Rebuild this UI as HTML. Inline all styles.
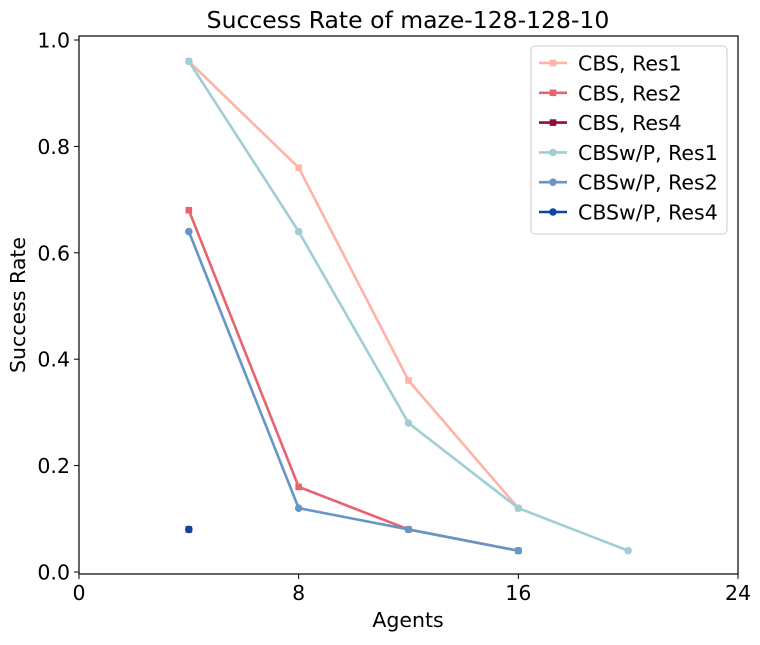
<!DOCTYPE html>
<html><head><meta charset="utf-8"><style>
body{margin:0;background:#fff}
svg{font-family:"DejaVu Sans","Liberation Sans",sans-serif}
</style></head><body>
<svg id="chart" width="760" height="640" xmlns="http://www.w3.org/2000/svg">
<rect width="760" height="640" fill="#fff"/>
<text x="408" y="28" font-size="23.5" text-anchor="middle">Success Rate of maze-128-128-10</text>
<text x="408" y="627" font-size="20.5" text-anchor="middle">Agents</text>
<text x="25" y="305" font-size="20.5" text-anchor="middle" transform="rotate(-90 25 305)">Success Rate</text>
<g id="ticks"></g>
<g id="series"></g>
<rect x="79" y="36" width="659" height="538" fill="none" stroke="#000" stroke-width="1.2"/>
<g id="legend"></g>
</svg>
<script>
const xTicks=[0,8,16,24];
const yTicks=[0.0,0.2,0.4,0.6,0.8,1.0];
const names=["CBS, Res1","CBS, Res2","CBS, Res4","CBSw/P, Res1","CBSw/P, Res2","CBSw/P, Res4"];
const colors=["#ffb3a7","#e8636f","#900c3f","#a0ced5","#6696c6","#0a47a0"];
const markers=["s","s","s","o","o","o"];
const xs1=[4,8,12,16];
const cbsRes1=[0.96,0.76,0.36,0.12];
const cbsRes2=[0.68,0.16,0.08,0.04];
const xsRes4=[4];
const cbsRes4=[0.08];
const xsP1=[4,8,12,16,20];
const pRes1=[0.96,0.64,0.28,0.12,0.04];
const pRes2=[0.64,0.12,0.08,0.04];
const pRes4=[0.08];
const NS="http://www.w3.org/2000/svg";
const X=v=>79+v*(659/24), Y=v=>572-v*532;
function mk(t,a,p){const e=document.createElementNS(NS,t);for(const k in a)e.setAttribute(k,a[k]);(p||document.getElementById('series')).appendChild(e);return e;}
const tg=document.getElementById('ticks');
xTicks.forEach(t=>{
 const l=mk('line',{x1:X(t),x2:X(t),y1:574,y2:579,stroke:'#000'},tg);
 
 
 const tx=mk('text',{x:X(t),y:600,'font-size':20.5,'text-anchor':'middle'},tg);tx.textContent=t;
 
 
});
yTicks.forEach(t=>{
 const l=mk('line',{x1:74,x2:79,y1:Y(t),y2:Y(t),stroke:'#000'},tg);
 
 
 const tx=mk('text',{x:70,y:Y(t)+7.5,'font-size':20.5,'text-anchor':'end'},tg);tx.textContent=t.toFixed(1);
 
 
});
function marker(m,x,y,c,p){
 let e;
 if(m==='s') e=mk('rect',{x:x-3.3,y:y-3.3,width:6.6,height:6.6,fill:c},p);
 else e=mk('circle',{cx:x,cy:y,r:3.8,fill:c},p);
 
 
}
const series=[[xs1,cbsRes1],[xs1,cbsRes2],[xsRes4,cbsRes4],[xsP1,pRes1],[xs1,pRes2],[xsRes4,pRes4]];
series.forEach((s,i)=>{
 const pts=s[0].map((x,j)=>X(x)+','+Y(s[1][j])).join(' ');
 const g=mk('g',{});
 
 
 const pl=mk('polyline',{points:pts,fill:'none',stroke:colors[i],'stroke-width':2.6},g);
 
 
 s[0].forEach((x,j)=>marker(markers[i],X(x),Y(s[1][j]),colors[i],g));
});
const lg=document.getElementById('legend');
const box=mk('rect',{x:531,y:46,width:196,height:188,rx:4,fill:'#fff','fill-opacity':0.8,stroke:'#ccc'},lg);


names.forEach((n,i)=>{
 const y=63+i*29.8;
 const g=mk('g',{},lg);
 
 
 mk('line',{x1:539,x2:567,y1:y,y2:y,stroke:colors[i],'stroke-width':2.6},g);
 marker(markers[i],553,y,colors[i],g);
 const t=mk('text',{x:578,y:y+7.5,'font-size':20.5},g);t.textContent=n;
});
</script>
</body></html>
